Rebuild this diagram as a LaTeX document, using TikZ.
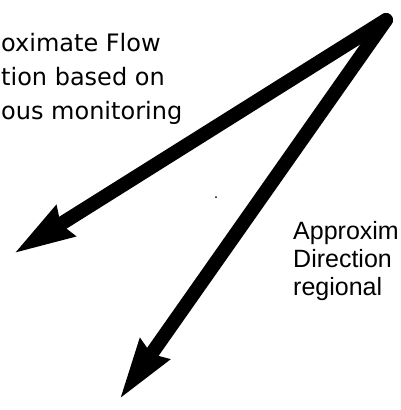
\documentclass[tikz,border=0pt]{standalone}
\usepackage{fontspec}
\setmainfont{DejaVu Sans}
\newfontfamily\labelfont{Liberation Sans}
\usetikzlibrary{arrows.meta}
\tikzset{%
	% Style of the thick flow arrow
	FlowArrow/.style={line width=14pt,line cap=round,-{Stealth[length=60pt,width=33pt,inset=4pt]}},
	% Style of the left text block (placed by the baseline of its last line)
	FlowNote/.style={anchor=base west,inner sep=0,font=\fontsize{24}{34}\selectfont,align=left},
	% Style of the right text block (placed by the baseline of its last line)
	RegionNote/.style={anchor=base west,inner sep=0,font=\labelfont\fontsize{25}{28}\selectfont,align=left},
}

\begin{document}
\begin{tikzpicture}[x=1pt,y=-1pt]
\useasboundingbox (0,0) rectangle (401,410);
\clip (0,0) rectangle (401,410);

%~~~~~~~~~~~~~~~~~~~~~~~~~~~~~~~~~~~~~~~~~~~~~~~~~~
% Set Points
%~~~~~~~~~~~~~~~~~~~~~~~~~~~~~~~~~~~~~~~~~~~~~~~~~~
\coordinate (Apex) at (386, 20);
\coordinate (TipW) at (13, 254);
\coordinate (TipS) at (119, 400);

%~~~~~~~~~~~~~~~~~~~~~~~~~~~~~~~~~~~~~~~~~~~~~~~~~~
% Set Labels
%~~~~~~~~~~~~~~~~~~~~~~~~~~~~~~~~~~~~~~~~~~~~~~~~~~
\node[FlowNote] (Local) at (1, 119) {oximate Flow\\tion based on\\ous monitoring};
\node[RegionNote] (Regional) at (293, 295) {Approxim\\Direction\\regional};

%~~~~~~~~~~~~~~~~~~~~~~~~~~~~~~~~~~~~~~~~~~~~~~~~~~
% Set Arrows
%~~~~~~~~~~~~~~~~~~~~~~~~~~~~~~~~~~~~~~~~~~~~~~~~~~
%Arrow from Apex to the west
\draw[FlowArrow] (Apex) -- (TipW);

%Arrow from Apex to the south
\draw[FlowArrow] (Apex) -- (TipS);

% speck
\fill (216, 197) circle (1);

\end{tikzpicture}
\end{document}
